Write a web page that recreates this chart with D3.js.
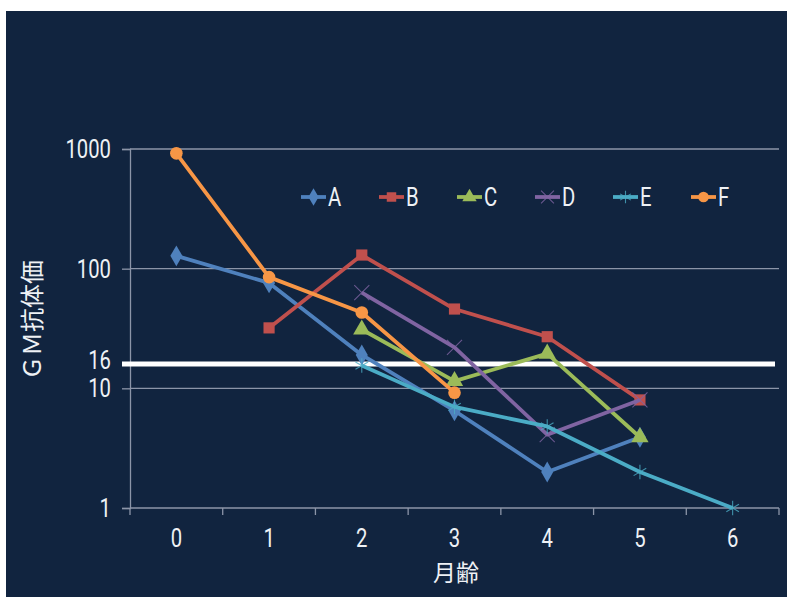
<!DOCTYPE html>
<html>
<head>
<meta charset="utf-8">
<script src="https://cdn.jsdelivr.net/npm/d3@7"></script>
<style>
  html, body { margin: 0; padding: 0; background: #ffffff; }
  svg { display: block; }
</style>
</head>
<body>
<svg id="chart" width="787" height="597"></svg>
<script>
// Month-of-age categories and GM antibody titres for six groups (log scale)
const months = ["0", "1", "2", "3", "4", "5", "6"];
const seriesNames = ["A", "B", "C", "D", "E", "F"];
const valuesA = [128, 76, 19, 6.5, 2, 3.9, null];
const valuesB = [null, 32, 130, 46, 27, 8, null];
const valuesC = [null, null, 31, 11.5, 19.5, 3.9, null];
const valuesD = [null, null, 63, 22, 4.1, 8, null];
const valuesE = [null, null, 15.5, 7, 4.8, 2, 1];
const valuesF = [920, 85, 43, 9.2, null, null, null];
const yTicks = [1, 10, 100, 1000];
const threshold = 16;
const colors = ["#4F81BD", "#C0504D", "#9BBB59", "#8064A2", "#4BACC6", "#F79646"];
const symbols = [d3.symbolDiamond, d3.symbolSquare, d3.symbolTriangle, d3.symbolTimes, d3.symbolAsterisk, d3.symbolCircle];
const strokeSymbol = [false, false, false, true, true, false];
const allValues = [valuesA, valuesB, valuesC, valuesD, valuesE, valuesF];

const svg = d3.select("#chart");
const numFont = "Roboto, 'Liberation Sans', sans-serif";
const cjkFont = "'Noto Sans CJK JP', 'Noto Sans', sans-serif";
const textColor = "#eef1f5";
const gridColor = "#8c95a8";
const numSize = 26;
const squeeze = 0.78;

// Condensed numeric label: anchored at (px, py), horizontally squeezed
function narrowText(g, px, py, str, anchor) {
  return g.append("text")
    .attr("transform", `translate(${px},${py}) scale(${squeeze},1)`)
    .attr("text-anchor", anchor).attr("fill", textColor)
    .attr("font-family", numFont).attr("font-size", numSize).text(str);
}

// Panel background
svg.append("rect").attr("x", 6).attr("y", 11).attr("width", 781).attr("height", 586).attr("fill", "#11243f");

const x = d3.scaleBand().domain(months).range([130, 779]);
const y = d3.scaleLog().domain([1, 1000]).range([508, 149]);

// Horizontal gridlines
svg.append("g").selectAll("line").data(yTicks.slice(1)).join("line")
  .attr("x1", 130).attr("x2", 779)
  .attr("y1", d => y(d)).attr("y2", d => y(d))
  .attr("stroke", gridColor).attr("stroke-width", 1.3);

// Y axis line and ticks
const yAxis = svg.append("g").attr("transform", "translate(130,0)")
  .call(d3.axisLeft(y).tickValues(yTicks).tickFormat("").tickSize(8));
yAxis.select(".domain").attr("stroke", gridColor).attr("stroke-width", 1.3);
yAxis.selectAll(".tick line").attr("stroke", gridColor).attr("stroke-width", 1.3);

// Y tick labels, plus the threshold value
const yLabels = svg.append("g");
yTicks.forEach(t => narrowText(yLabels, 111, y(t) + 9, d3.format("d")(t), "end"));
narrowText(yLabels, 111, y(threshold) + 5, String(threshold), "end");

// X axis with ticks at category boundaries
const xAxisG = svg.append("g").attr("transform", "translate(0,508)");
xAxisG.append("line").attr("x1", 130).attr("x2", 779).attr("stroke", gridColor).attr("stroke-width", 1.3);
const bounds = months.map(m => x(m)).concat([x.range()[1]]);
xAxisG.selectAll("line.tk").data(bounds).join("line").attr("class", "tk")
  .attr("x1", d => d).attr("x2", d => d).attr("y1", 0).attr("y2", 7)
  .attr("stroke", gridColor).attr("stroke-width", 1.3);
months.forEach(m => narrowText(xAxisG, x(m) + x.bandwidth() / 2, 39, m, "middle"));

// Axis titles
svg.append("text").attr("x", 456).attr("y", 581).attr("text-anchor", "middle")
  .attr("fill", textColor).attr("font-family", cjkFont).attr("font-size", 23).text("月齢");
svg.append("text").attr("transform", "translate(41,320) rotate(-90)")
  .attr("text-anchor", "middle").attr("fill", textColor)
  .attr("font-family", cjkFont).attr("font-size", 24).text("ＧＭ抗体価");

// Threshold line at 16
svg.append("line").attr("x1", 122).attr("x2", 775)
  .attr("y1", y(threshold)).attr("y2", y(threshold))
  .attr("stroke", "#ffffff").attr("stroke-width", 5);

// Series lines and markers
const cx = m => x(m) + x.bandwidth() / 2;
const line = d3.line().defined(d => d.v != null).x(d => cx(d.m)).y(d => y(d.v));

function drawMarker(g, i, px, py, size) {
  const path = d3.symbol().type(symbols[i]).size(size)();
  const mk = g.append("path").attr("d", path).attr("transform", `translate(${px},${py})`);
  if (strokeSymbol[i]) mk.attr("fill", "none").attr("stroke", colors[i]).attr("stroke-width", 1.1).attr("stroke-opacity", 0.8);
  else mk.attr("fill", colors[i]);
}

allValues.forEach((vals, i) => {
  const pts = months.map((m, k) => ({ m: m, v: vals[k] }));
  const g = svg.append("g");
  g.append("path").datum(pts).attr("d", line)
    .attr("fill", "none").attr("stroke", colors[i]).attr("stroke-width", 3.8)
    .attr("stroke-linejoin", "round");
  pts.filter(d => d.v != null).forEach(d => {
    drawMarker(g, i, cx(d.m), y(d.v), strokeSymbol[i] ? 150 : (i === 2 ? 130 : 125));
  });
});

// Legend
const legend = svg.append("g");
seriesNames.forEach((name, i) => {
  const lx = 301 + i * 78, ly = 197;
  legend.append("line").attr("x1", lx).attr("x2", lx + 25).attr("y1", ly).attr("y2", ly)
    .attr("stroke", colors[i]).attr("stroke-width", 3.8);
  drawMarker(legend, i, lx + 12.5, ly, strokeSymbol[i] ? 110 : 90);
  narrowText(legend, lx + 27, ly + 9, name, "start");
});
</script>
</body>
</html>
